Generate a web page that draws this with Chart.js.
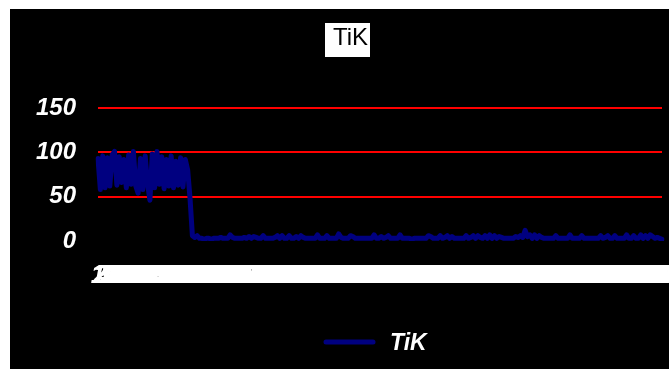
<!DOCTYPE html>
<html>
<head>
<meta charset="utf-8">
<script src="https://cdn.jsdelivr.net/npm/chart.js@4/dist/chart.umd.min.js"></script>
<style>
    html, body { margin: 0; padding: 0; background: #ffffff; }
    #frame { position: absolute; left: 10px; top: 9px; width: 659px; height: 360px; background: #000000; }
    canvas { display: block; }
</style>
</head>
<body>
<div id="frame"><canvas id="tik-chart" width="659" height="360"></canvas></div>
<script>
// TiK readings
const seriesName = 'TiK';
const tikValues = [
    93, 58, 96, 60, 94, 62, 97, 101, 63, 95,
    66, 92, 60, 97, 64, 101, 62, 54, 93, 58,
    96, 65, 46, 98, 60, 101, 64, 95, 59, 92,
    62, 96, 60, 90, 63, 94, 61, 92, 80, 48,
    6, 4, 6, 3, 3, 2, 3, 3, 2, 3,
    3, 3, 4, 3, 3, 3, 7, 4, 3, 3,
    3, 3, 4, 3, 5, 3, 5, 4, 3, 3,
    6, 3, 3, 3, 3, 4, 6, 3, 6, 3,
    3, 6, 3, 3, 5, 3, 6, 4, 3, 3,
    3, 3, 3, 7, 3, 3, 3, 6, 3, 3,
    3, 3, 8, 4, 3, 3, 3, 6, 5, 3,
    3, 3, 3, 3, 3, 3, 3, 7, 3, 3,
    5, 3, 4, 6, 3, 3, 3, 3, 7, 3,
    3, 3, 3, 2, 3, 3, 3, 3, 3, 3,
    6, 5, 3, 3, 3, 6, 3, 4, 6, 3,
    5, 3, 3, 3, 3, 3, 6, 3, 4, 6,
    3, 6, 4, 3, 6, 3, 7, 3, 6, 3,
    5, 4, 3, 3, 3, 3, 3, 5, 4, 6,
    4, 12, 5, 7, 3, 7, 3, 6, 4, 3,
    3, 3, 3, 3, 6, 3, 3, 3, 3, 3,
    7, 3, 3, 3, 3, 6, 3, 3, 3, 3,
    3, 3, 3, 6, 3, 4, 6, 3, 3, 6,
    3, 3, 3, 3, 7, 3, 3, 6, 3, 3,
    7, 3, 6, 3, 7, 5, 3, 4, 3, 2
];
// sample numbers along the x axis
const categories = tikValues.map((v, i) => String(i + 1));
const yTicks = [0, 50, 100, 150];

const fontFamily = '"Liberation Sans", Arial, sans-serif';
const navy = '#000080';

// white box with the title, excel style
const titleBox = {
    id: 'titleBox',
    afterDraw(chart) {
        const ctx = chart.ctx;
        ctx.save();
        ctx.fillStyle = '#ffffff';
        ctx.fillRect(315, 14, 45, 34);
        ctx.fillStyle = '#000000';
        ctx.font = '24px ' + fontFamily;
        ctx.textAlign = 'left';
        ctx.textBaseline = 'alphabetic';
        ctx.fillText(seriesName, 323, 36);
        ctx.restore();
    }
};

// legend at the bottom: line sample plus name
const lineLegend = {
    id: 'lineLegend',
    afterDraw(chart) {
        const ctx = chart.ctx;
        ctx.save();
        ctx.strokeStyle = navy;
        ctx.lineWidth = 5;
        ctx.lineCap = 'round';
        ctx.beginPath();
        ctx.moveTo(316, 333);
        ctx.lineTo(363, 333);
        ctx.stroke();
        ctx.fillStyle = '#ffffff';
        ctx.font = 'italic bold 23px ' + fontFamily;
        ctx.textBaseline = 'alphabetic';
        ctx.fillText(seriesName, 380, 341);
        ctx.restore();
    }
};

const chart = new Chart(document.getElementById('tik-chart').getContext('2d'), {
    type: 'line',
    data: {
        labels: categories,
        datasets: [{
            label: seriesName,
            data: tikValues,
            borderColor: navy,
            backgroundColor: navy,
            borderWidth: 5,
            borderJoinStyle: 'round',
            borderCapStyle: 'round',
            pointRadius: 0,
            tension: 0
        }]
    },
    options: {
        responsive: false,
        animation: false,
        devicePixelRatio: 1,
        layout: { padding: { top: 99, left: 16, right: 7, bottom: 68 } },
        plugins: {
            legend: { display: false },
            title: { display: false },
            tooltip: { enabled: false }
        },
        scales: {
            x: {
                grid: { display: false, drawTicks: false },
                border: { display: false },
                ticks: {
                    autoSkip: false,
                    maxRotation: 0,
                    minRotation: 0,
                    padding: 19,
                    color: '#ffffff',
                    font: { family: fontFamily, size: 26, style: 'italic', weight: 'bold' }
                },
                afterFit(scale) {
                    scale.height = 60;
                    scale.paddingLeft = 0;
                    scale.paddingRight = 0;
                }
            },
            y: {
                min: yTicks[0],
                max: yTicks[yTicks.length - 1],
                grid: {
                    drawTicks: false,
                    lineWidth: 2,
                    color: (c) => (c.tick && c.tick.value === 0 ? 'rgba(0,0,0,0)' : '#ff0000')
                },
                border: { display: false },
                afterBuildTicks(scale) {
                    scale.ticks = yTicks.map(v => ({ value: v }));
                },
                ticks: {
                    padding: 22,
                    color: '#ffffff',
                    font: { family: fontFamily, size: 24, style: 'italic', weight: 'bold' }
                },
                afterFit(scale) {
                    scale.width = 72;
                }
            }
        }
    },
    plugins: [titleBox, lineLegend]
});
</script>
</body>
</html>
